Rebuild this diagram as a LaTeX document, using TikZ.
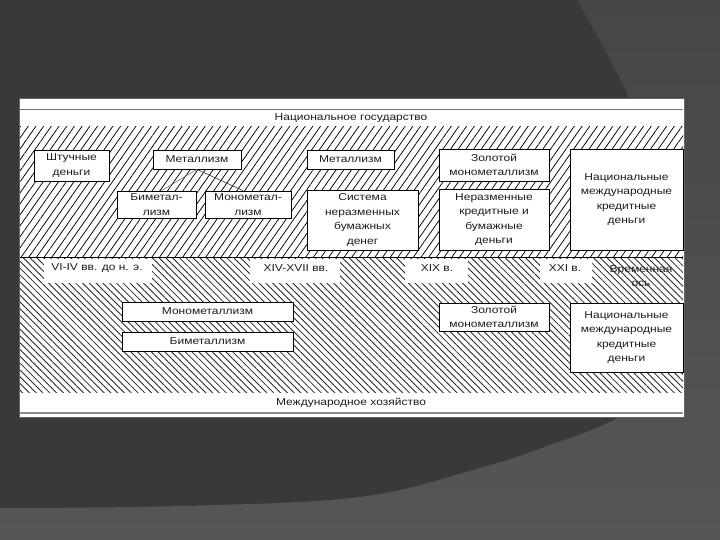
\documentclass[tikz,border=0pt]{standalone}
\usepackage{fontspec}
\setmainfont{Liberation Sans}[FakeStretch=1.2]
\usetikzlibrary{patterns.meta,shadows}
\definecolor{bgdark}{HTML}{393939}
\definecolor{bgtop}{HTML}{464646}
\definecolor{bgbot}{HTML}{565656}
\definecolor{txt}{HTML}{1C1C1C}
\tikzset{
  txtstyle/.style={font=\fontsize{10}{14.4}\selectfont, text=txt, align=center, inner sep=0pt},
  box/.style={txtstyle, draw=black, line width=0.8pt, fill=white,
    drop shadow={shadow xshift=1.3pt, shadow yshift=-1.3pt, fill=black!75, opacity=1}},
  patch/.style={fill=white, draw=none},
  uphatch/.style={pattern={Lines[angle=55,distance=6.3pt,line width=0.75pt]}, pattern color=black},
  lowhatch/.style={pattern={Lines[angle=-45,distance=4.8pt,line width=0.85pt]}, pattern color=black!85},
  link/.style={line width=0.6pt, draw=black!80}
}
\newcommand\bx[6]{\node[box, minimum width={(#4-#2)*1pt}, minimum height={(#5-#3)*1pt}] (#1) at ({(#2+#4)/2},{(#3+#5)/2}) {#6};}
\begin{document}
\begin{tikzpicture}[x=1pt,y=-1pt]
\useasboundingbox (0,0) rectangle (720,540);
% background
\fill[bgdark] (0,0) rectangle (720,540);
\shade[top color=bgtop, bottom color=bgbot]
  plot[smooth, tension=0.6] coordinates {(577,0) (630,100) (662,200) (668,300) (650,385) (617,418) (550,445) (480,468) (360,497) (180,506) (0,508)}
  -- (0,540) -- (720,540) -- (720,0) -- cycle;
% diagram frame
\fill[white, draw=black!60, line width=0.5pt] (19,98) rectangle (684,417);
\draw[black!55, line width=0.8pt] (20,109) -- (683,109);
\fill[uphatch] (20,127) rectangle (683,256);
% lower region: text under hatch
\node[txtstyle] (t5) at (641,276) {Временная\\ось};
\fill[lowhatch] (20,258) rectangle (683,392);
\draw[black, line width=1pt] (20,257) -- (683,257);
\draw[black!45, line width=2pt] (20,413) -- (683,413);
% region titles
\node[txtstyle] (nat) at (351,118) {Национальное государство};
\node[txtstyle] (intl) at (351,403) {Международное хозяйство};
% timeline patches and labels
\fill[patch] (44,259) rectangle (152,283);
\fill[patch] (250,259) rectangle (340,283);
\fill[patch] (405,259) rectangle (468,283);
\fill[patch] (540,259) rectangle (592,283);
\node[txtstyle] (t1) at (97,268) {VI-IV вв. до н. э.};
\node[txtstyle] (t2) at (296,268) {XIV-XVII вв.};
\node[txtstyle] (t3) at (437,268) {XIX в.};
\node[txtstyle] (t4) at (565,268) {XXI в.};
% upper boxes
\bx{shtuch}{34}{150}{109}{181}{Штучные\\деньги}
\bx{met1}{153}{150}{241}{169}{Металлизм}
\bx{bimet}{117}{191}{196}{218}{Биметал-\\лизм}
\bx{monomet}{205}{191}{291}{218}{Монометал-\\лизм}
\bx{met2}{307}{150}{394}{169}{Металлизм}
\bx{sist}{307}{190}{418}{250}{Система\\неразменных\\бумажных\\денег}
\bx{zol1}{439}{149}{549}{181}{Золотой\\монометаллизм}
\bx{neraz}{439}{189}{549}{250}{Неразменные\\кредитные и\\бумажные\\деньги}
\bx{nat1}{570}{149}{683}{250}{Национальные\\международные\\кредитные\\деньги}
% lower boxes
\bx{mono2}{122}{302}{293}{321}{Монометаллизм}
\bx{bim2}{122}{332}{293}{351}{Биметаллизм}
\bx{zol2}{439}{303}{549}{331}{Золотой\\монометаллизм}
\bx{nat2}{570}{303}{683}{372}{Национальные\\международные\\кредитные\\деньги}
% connectors
\draw[link, draw=black!55] (met1.south) -- ([xshift=5pt]bimet.north);
\draw[link] (met1.south) -- ([xshift=-5pt]monomet.north);
\end{tikzpicture}
\end{document}
